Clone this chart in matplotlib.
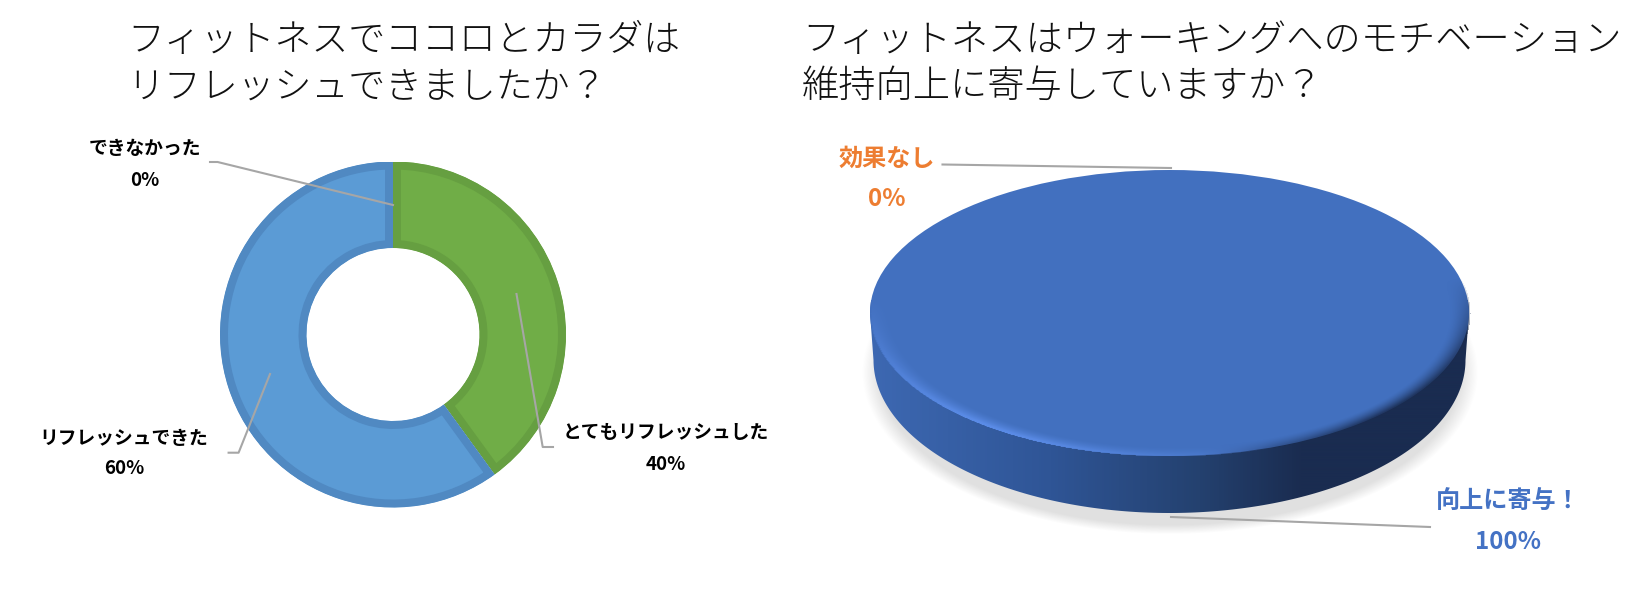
import numpy as np
import matplotlib
matplotlib.use("Agg")
import matplotlib.pyplot as plt
from matplotlib.colors import LinearSegmentedColormap, to_rgb
from matplotlib.patches import Polygon

plt.rcParams['font.family'] = ['Noto Sans CJK JP', 'DejaVu Sans']

W, H = 1644, 589

# left chart
left_title = ["フィットネスでココロとカラダは", "リフレッシュできましたか？"]
left_labels = ["とてもリフレッシュした", "リフレッシュできた", "できなかった"]
left_values = [40, 60, 0]
left_colors = ["#70AD47", "#5B9BD5", "#A5A5A5"]
left_edges = ["#669F41", "#5089C2", "#A5A5A5"]

# right chart
right_title = ["フィットネスはウォーキングへのモチベーション", "維持向上に寄与していますか？"]
right_labels = ["向上に寄与！", "効果なし"]
right_values = [100, 0]
right_colors = ["#4270BF", "#ED7D31"]

fig = plt.figure(figsize=(W / 100, H / 100), dpi=100, facecolor="white")


def px_axes(x0, y0, x1, y1, z):
    ax = fig.add_axes([x0 / W, 1 - y1 / H, (x1 - x0) / W, (y1 - y0) / H], zorder=z)
    ax.set_axis_off()
    return ax


back = px_axes(0, 0, W, H, 0)
back.set_xlim(0, W)
back.set_ylim(H, 0)
over = px_axes(0, 0, W, H, 3)
over.set_xlim(0, W)
over.set_ylim(H, 0)

# donut
cx, cy, r = 393, 334.5, 173
ax1 = px_axes(cx - r, cy - r, cx + r, cy + r, 1)
wedges, _ = ax1.pie(left_values, colors=left_colors, startangle=90, counterclock=False,
                    radius=1, wedgeprops=dict(width=0.5))
for w, e in zip(wedges, left_edges):
    w.set_edgecolor(e)
    w.set_linewidth(11.5)
    w.set_clip_path(w)
    w.set_clip_on(True)
ax1.set_aspect("auto")
ax1.set_xlim(-1, 1)
ax1.set_ylim(-1, 1)

# 3d looking pie
px, py, rx, ry = 1169.5, 313, 299.5, 143
bx, by, brx, bry = 1169.5, 360, 296, 153

yy, xx = np.mgrid[0:H, 0:W]

# soft shadow under the disc
rs = np.sqrt(((xx - 1169) / 293) ** 2 + ((yy - 372) / 154) ** 2)
shadow = np.zeros((H, W, 4))
shadow[..., :3] = 0.6
shadow[..., 3] = 0.3 * np.clip((1.05 - rs) / 0.06, 0, 1)
back.imshow(shadow, extent=(0, W, H, 0), aspect="auto", zorder=1)

# side wall with a dark gradient to the right
side_cmap = LinearSegmentedColormap.from_list(
    "side", [(0, "#3D68B2"), (0.3, "#2F5596"), (0.55, "#24416F"), (0.72, "#1A2C50"), (1, "#1A2C50")])
side = back.imshow(np.linspace(0, 1, 600).reshape(1, -1), cmap=side_cmap, extent=(bx - 300, bx + 300, 520, 300),
                   aspect="auto", zorder=2)
t = np.linspace(0, np.pi, 200)
outline = np.vstack([
    np.column_stack([bx + brx * np.cos(t), by + bry * np.sin(t)]),
    np.column_stack([px - rx * np.cos(t), py - ry * np.sin(t)]),
])
side.set_clip_path(Polygon(outline, closed=True, transform=back.transData))
back.set_xlim(0, W)
back.set_ylim(H, 0)

ax2 = px_axes(px - rx, py - ry, px + rx, py + ry, 1)
wedges2, _ = ax2.pie(right_values, colors=right_colors, startangle=90, counterclock=False, radius=1)
ax2.set_aspect("auto")
ax2.set_xlim(-1, 1)
ax2.set_ylim(-1, 1)

# bevel along the rim of the top face, light on the left going dark on the right
rt = np.sqrt(((xx - px) / rx) ** 2 + ((yy - py) / ry) ** 2)
ang = np.arctan2((yy - py) / ry, (xx - px) / rx)
band = np.clip((rt - 0.93) / 0.06, 0, 1) ** 1.5 * (rt <= 1.0)
light = np.clip(np.sin(ang) + 0.1, 0, 1) * np.clip(0.35 - np.cos(ang), 0, 1)
dark = np.clip(np.cos(ang) - 0.1, 0, 1) * np.clip(np.sin(ang) + 0.25, 0, 1)
total = np.maximum(light + dark, 1e-6)
bevel = np.zeros((H, W, 4))
for k in range(3):
    bevel[..., k] = (light * to_rgb("#5F90EE")[k] + dark * to_rgb("#1A2C50")[k]) / total
bevel[..., 3] = band * np.clip(light + dark * 1.4, 0, 1)
over.imshow(bevel, extent=(0, W, H, 0), aspect="auto", zorder=1)
over.set_xlim(0, W)
over.set_ylim(H, 0)

# titles
for i, line in enumerate(left_title):
    over.text(127, [41, 87][i], line, fontsize=26.6, weight="light", color="#111111", ha="left", va="center")
for i, line in enumerate(right_title):
    over.text(802, [41, 87][i], line, fontsize=26.8, weight="light", color="#111111", ha="left", va="center")

# data labels
pos_left = [(666, 433, 465), (124, 438, 469), (145, 148.5, 180)]
for name, val, (x, y1, y2) in zip(left_labels, left_values, pos_left):
    over.text(x, y1, name, fontsize=13.5, weight="bold", color="black", ha="center", va="center", zorder=5)
    over.text(x, y2, f"{val}%", fontsize=13.5, weight="bold", color="black", ha="center", va="center", zorder=5)

pos_right = [(1508, 501, 542), (887, 159, 199)]
label_colors = ["#4472C4", "#ED7D31"]
for name, val, (x, y1, y2), c in zip(right_labels, right_values, pos_right, label_colors):
    over.text(x, y1, name, fontsize=17.4, weight="bold", color=c, ha="center", va="center", zorder=5)
    over.text(x, y2, f"{val}%", fontsize=17.4, weight="bold", color=c, ha="center", va="center", zorder=5)

# leader lines
leaders = [
    [(210, 162), (217.6, 162), (393, 205)],
    [(228.6, 452.7), (238.6, 452.7), (270, 374)],
    [(553, 447), (542.7, 447), (516.5, 294)],
    [(942.5, 164.5), (1171, 168)],
    [(1171, 517), (1430, 527)],
]
for pts in leaders:
    xs, ys = zip(*pts)
    over.plot(xs, ys, color="#A6A6A6", lw=1.5, zorder=4)

fig.savefig("out.png", dpi=100, facecolor="white")
